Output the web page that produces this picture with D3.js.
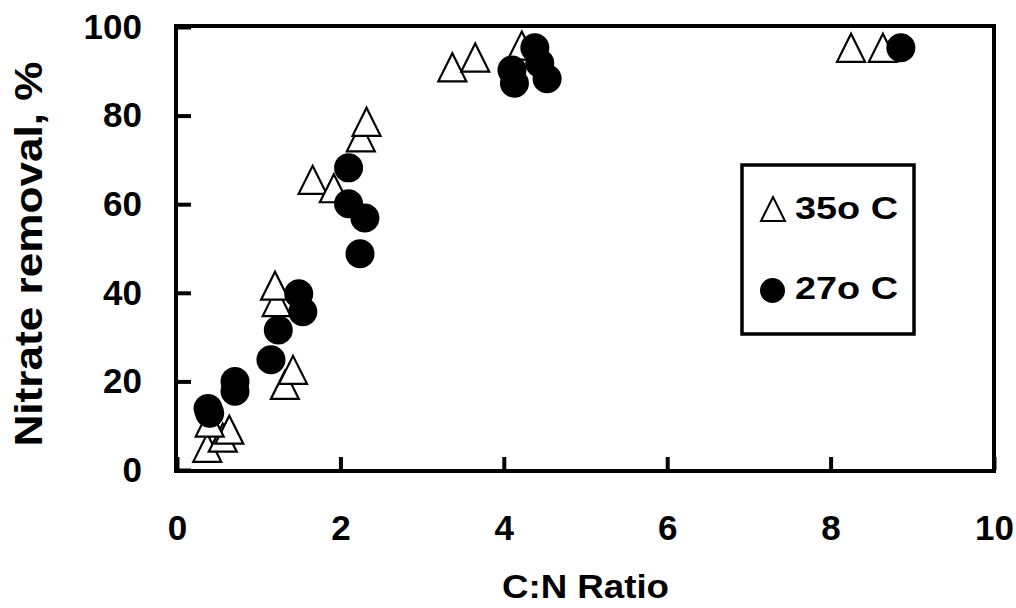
<!DOCTYPE html>
<html>
<head>
<meta charset="utf-8">
<script src="https://cdn.jsdelivr.net/npm/d3@7"></script>
<style>
  body { margin: 0; background: #fff; }
  text { font-family: "Liberation Sans", Arial, sans-serif; font-weight: bold; fill: #000; }
</style>
</head>
<body>
<div id="chart"></div>
<script>
// C:N ratio vs nitrate removal
const xTicks = [0, 2, 4, 6, 8, 10];
const yTicks = [0, 20, 40, 60, 80, 100];

const ratio35 = [0.37, 0.56, 0.64, 0.40, 1.32, 1.42, 1.22, 1.20, 1.66, 1.92, 2.25, 2.32, 3.37, 3.65, 4.22, 8.25, 8.64];
const removal35 = [5.0, 7.3, 9.1, 10.7, 19.2, 22.6, 37.9, 41.6, 65.5, 63.6, 75.1, 78.6, 90.9, 93.1, 95.8, 95.3, 95.3];

const ratio27 = [0.38, 0.40, 0.71, 0.71, 1.15, 1.24, 1.49, 1.54, 2.10, 2.10, 2.30, 2.24, 4.10, 4.13, 4.38, 4.44, 4.53, 8.86];
const removal27 = [13.9, 12.8, 20.0, 17.8, 24.9, 31.6, 39.8, 35.7, 68.2, 60.1, 56.9, 48.8, 90.3, 87.3, 95.3, 91.8, 88.3, 95.3];

const legendLabels = ["35o C", "27o C"];

const W = 1016, H = 608;
const svg = d3.select("#chart").append("svg")
    .attr("width", W)
    .attr("height", H);

const x = d3.scaleLinear().domain([0, 10]).range([177, 994]);
const y = d3.scaleLinear().domain([0, 100]).range([470, 27]);

// axes: ticks point inward
const yAxis = svg.append("g")
    .attr("transform", "translate(" + x(0) + ",0)")
    .call(d3.axisLeft(y).tickValues(yTicks).tickSize(-14).tickPadding(35));
const xAxis = svg.append("g")
    .attr("transform", "translate(0," + y(0) + ")")
    .call(d3.axisBottom(x).tickValues(xTicks).tickSize(-13).tickPadding(45));

[xAxis, yAxis].forEach(g => {
  g.select(".domain").remove();
  g.selectAll(".tick line").attr("stroke", "#000").attr("stroke-width", 4);
  g.selectAll(".tick text")
    .style("font-family", "'Liberation Sans', Arial, sans-serif")
    .style("font-weight", "bold")
    .style("font-size", "35px")
    .attr("fill", "#000");
});

// plot frame
svg.append("rect")
    .attr("x", x(0) - 1)
    .attr("y", y(100) - 1)
    .attr("width", x(10) - x(0) + 1)
    .attr("height", y(0) - y(100) + 2)
    .attr("fill", "none")
    .attr("stroke", "#000")
    .attr("stroke-width", 4);

// markers
const triSize = 28, circR = 14.5;
const triPath = (cx, cy, s) => "M" + cx + "," + (cy - s / 2) + "L" + (cx + s / 2) + "," + (cy + s / 2) + "L" + (cx - s / 2) + "," + (cy + s / 2) + "Z";

svg.append("g").selectAll("path")
  .data(d3.range(ratio35.length))
  .enter()
  .append("path")
    .attr("d", i => triPath(x(ratio35[i]), y(removal35[i]), triSize))
    .attr("fill", "#fff")
    .attr("stroke", "#000")
    .attr("stroke-width", 2.2);

svg.append("g").selectAll("circle")
  .data(d3.range(ratio27.length))
  .enter()
  .append("circle")
    .attr("cx", i => x(ratio27[i]))
    .attr("cy", i => y(removal27[i]))
    .attr("r", circR)
    .attr("fill", "#000");

// axis titles
svg.append("text")
    .attr("x", (x(0) + x(10)) / 2)
    .attr("y", 598)
    .attr("text-anchor", "middle")
    .attr("textLength", 167)
    .attr("lengthAdjust", "spacingAndGlyphs")
    .style("font-size", "33px")
    .text("C:N Ratio");

svg.append("text")
    .attr("transform", "translate(42,254) rotate(-90)")
    .attr("text-anchor", "middle")
    .attr("textLength", 385)
    .attr("lengthAdjust", "spacingAndGlyphs")
    .style("font-size", "38px")
    .text("Nitrate removal, %");

// legend
const legend = svg.append("g");
legend.append("rect")
    .attr("x", 742).attr("y", 165)
    .attr("width", 172).attr("height", 169)
    .attr("fill", "#fff")
    .attr("stroke", "#000")
    .attr("stroke-width", 3.5);
legend.append("path")
    .attr("d", triPath(773, 209, 24))
    .attr("fill", "#fff")
    .attr("stroke", "#000")
    .attr("stroke-width", 2);
legend.append("circle")
    .attr("cx", 772.5).attr("cy", 290.5).attr("r", 12.5)
    .attr("fill", "#000");
legend.selectAll("text.lab")
  .data(legendLabels)
  .enter()
  .append("text")
    .attr("class", "lab")
    .attr("x", 795)
    .attr("y", (d, i) => 219 + i * 80)
    .attr("textLength", 103)
    .attr("lengthAdjust", "spacingAndGlyphs")
    .style("font-size", "31px")
    .text(d => d);
</script>
</body>
</html>
